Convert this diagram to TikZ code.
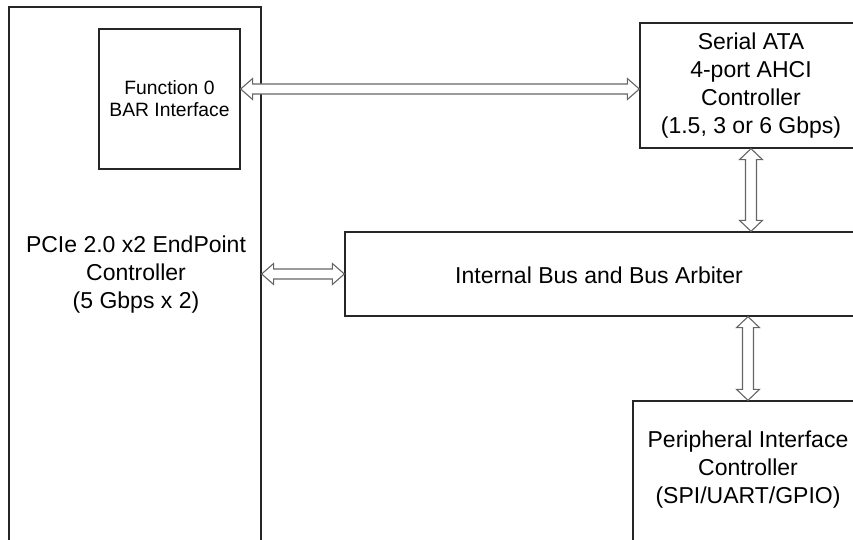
\documentclass[tikz,border=0pt]{standalone}
\usepackage{fontspec}
\setmainfont{Liberation Sans}
\usetikzlibrary{calc}
\begin{document}
\begin{tikzpicture}[x=1pt,y=-1pt,
  blk/.style={draw=black!85,line width=1.3pt,fill=white,inner sep=0pt},
  txt/.style={align=center,font=\fontsize{23pt}{28pt}\selectfont,inner sep=0pt},
  smalltxt/.style={align=center,font=\fontsize{19.3pt}{22pt}\selectfont,inner sep=0pt},
  arr/.style={draw=black!60,line width=1.1pt,fill=white,line join=miter}]
\useasboundingbox (0,0) rectangle (853,540);
\clip (0,0) rectangle (853,540);
% boxes
\node[blk,minimum width=252pt,minimum height=553pt] (pcie) at (135,283.5) {};
\node[blk,minimum width=141pt,minimum height=140pt,smalltxt] (fn) at (169.5,99) {Function 0\\BAR Interface};
\node[blk,minimum width=222pt,minimum height=125pt,txt] (sata) at (751,85.5) {Serial ATA\\4-port AHCI\\Controller\\(1.5, 3 or 6 Gbps)};
\node[blk,minimum width=530pt,minimum height=84pt] (bus) at (610,274) {};
\node[blk,minimum width=230pt,minimum height=180pt] (per) at (748,491) {};
% texts
\node[txt] (pcietxt) at (136,275) {PCIe 2.0 x2 EndPoint\\Controller\\(5 Gbps x 2)};
\node[txt] (bustxt) at (599,275) {Internal Bus and Bus Arbiter};
\node[txt] (pertxt) at (748,470) {Peripheral Interface\\Controller\\(SPI/UART/GPIO)};
% hollow double arrows
\path[arr] let \p1=(fn.east |- 0,89), \p2=(sata.west |- 0,89) in
  (\x1,\y1) -- (\x1+12pt,\y1+10.5pt) -- (\x1+12pt,\y1+5pt) -- (\x2-12pt,\y1+5pt) -- (\x2-12pt,\y1+10.5pt) -- (\x2,\y1)
  -- (\x2-12pt,\y1-10.5pt) -- (\x2-12pt,\y1-5pt) -- (\x1+12pt,\y1-5pt) -- (\x1+12pt,\y1-10.5pt) -- cycle;
\path[arr] let \p1=(pcie.east |- bus.west), \p2=(bus.west) in
  (\x1,\y1) -- (\x1+12pt,\y1+10.5pt) -- (\x1+12pt,\y1+5pt) -- (\x2-12pt,\y1+5pt) -- (\x2-12pt,\y1+10.5pt) -- (\x2,\y1)
  -- (\x2-12pt,\y1-10.5pt) -- (\x2-12pt,\y1-5pt) -- (\x1+12pt,\y1-5pt) -- (\x1+12pt,\y1-10.5pt) -- cycle;
\path[arr] let \p1=(sata.south), \p2=(bus.north -| sata.south) in
  (\x1,\y1) -- (\x1+11.5pt,\y1-11pt) -- (\x1+5.5pt,\y1-11pt) -- (\x1+5.5pt,\y2+11pt) -- (\x1+11.5pt,\y2+11pt) -- (\x1,\y2)
  -- (\x1-11.5pt,\y2+11pt) -- (\x1-5.5pt,\y2+11pt) -- (\x1-5.5pt,\y1-11pt) -- (\x1-11.5pt,\y1-11pt) -- cycle;
\path[arr] let \p1=(bus.south -| per.north), \p2=(per.north) in
  (\x1,\y1) -- (\x1+11.5pt,\y1-11pt) -- (\x1+5.5pt,\y1-11pt) -- (\x1+5.5pt,\y2+11pt) -- (\x1+11.5pt,\y2+11pt) -- (\x1,\y2)
  -- (\x1-11.5pt,\y2+11pt) -- (\x1-5.5pt,\y2+11pt) -- (\x1-5.5pt,\y1-11pt) -- (\x1-11.5pt,\y1-11pt) -- cycle;
\end{tikzpicture}
\end{document}
